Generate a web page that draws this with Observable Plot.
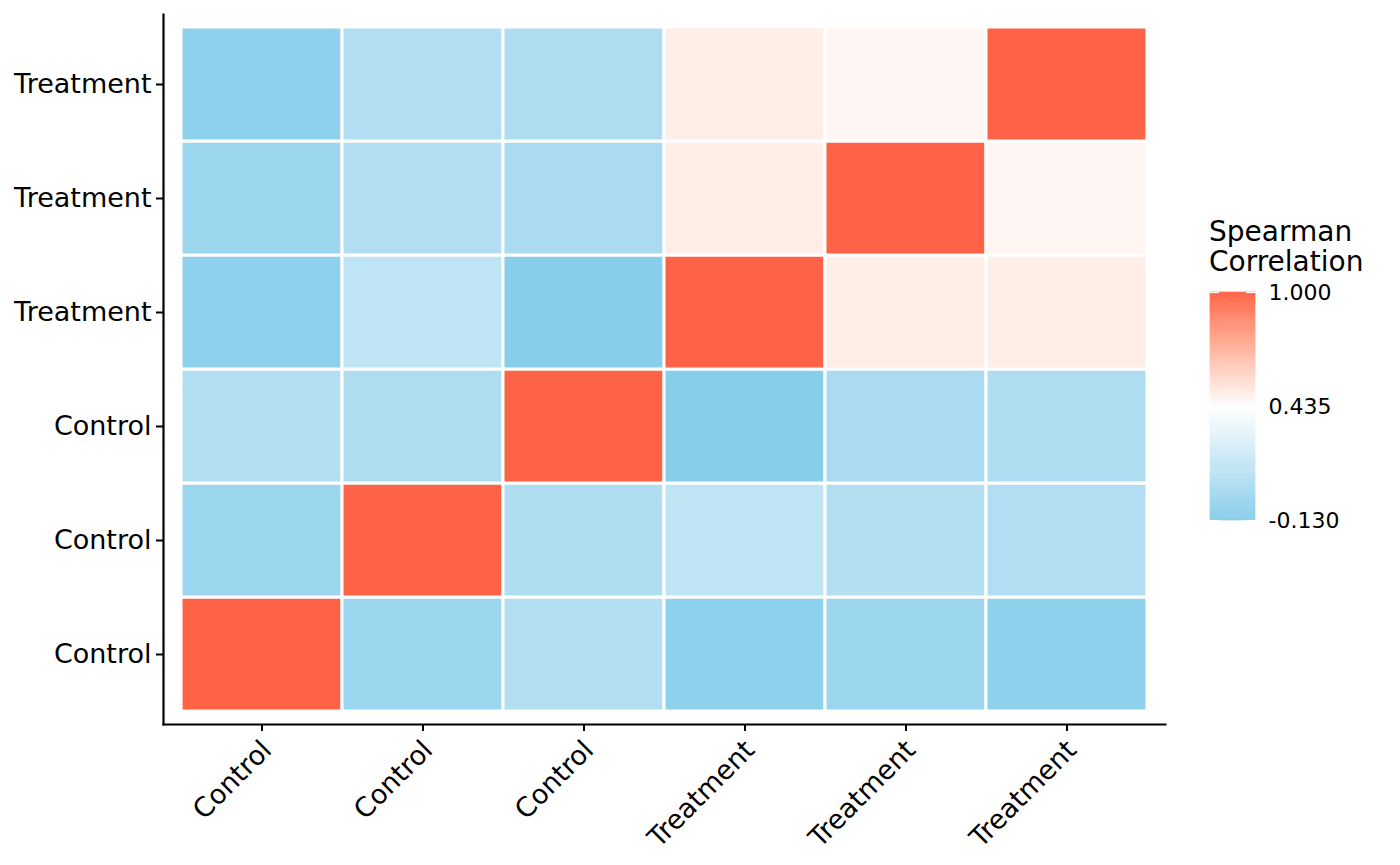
<!DOCTYPE html>
<html>
<head>
<meta charset="utf-8">
<script src="https://cdn.jsdelivr.net/npm/d3@7"></script>
<script src="https://cdn.jsdelivr.net/npm/@observablehq/plot@0.6"></script>
<style>
  html, body { margin: 0; padding: 0; background: #fff; }
  #wrap { position: relative; width: 1400px; height: 865px; font-family: "DejaVu Sans", sans-serif; }
  #main { position: absolute; left: 0; top: 0; }
  #legend { position: absolute; left: 1190px; top: 270px; }
  #ltitle { position: absolute; left: 1209px; top: 217px; font-size: 28px; line-height: 30px; color: #000; }
</style>
</head>
<body>
<div id="wrap">
  <div id="main"></div>
  <div id="ltitle">Spearman<br>Correlation</div>
  <div id="legend"></div>
</div>
<script>
// ---- data ----
const sampleIds = ["C1", "C2", "C3", "T1", "T2", "T3"];
const sampleLabels = ["Control", "Control", "Control", "Treatment", "Treatment", "Treatment"];
const corrC1 = [1.000, -0.040, 0.065, -0.100, -0.045, -0.100];
const corrC2 = [-0.040, 1.000, 0.050, 0.120, 0.070, 0.055];
const corrC3 = [0.065, 0.050, 1.000, -0.130, 0.020, 0.040];
const corrT1 = [-0.100, 0.120, -0.130, 1.000, 0.500, 0.500];
const corrT2 = [-0.045, 0.070, 0.020, 0.500, 1.000, 0.470];
const corrT3 = [-0.100, 0.055, 0.040, 0.500, 0.470, 1.000];
const legendTicks = [-0.130, 0.435, 1.000];

const matrix = [corrC1, corrC2, corrC3, corrT1, corrT2, corrT3];
const cells = [];
matrix.forEach((row, i) => row.forEach((r, j) => cells.push({row: sampleIds[i], col: sampleIds[j], r})));
const labelOf = id => sampleLabels[sampleIds.indexOf(id)];

const colorOpts = {
  type: "linear",
  domain: [legendTicks[0], legendTicks[1], legendTicks[2]],
  range: ["skyblue", "white", "tomato"],
  interpolate: "lab"
};

const main = Plot.plot({
  width: 1180,
  height: 865,
  marginLeft: 163,
  marginRight: 15,
  marginTop: 14,
  marginBottom: 141,
  style: { fontFamily: "DejaVu Sans, sans-serif", fontSize: "27px", color: "#000", background: "transparent" },
  x: { domain: sampleIds, type: "band", paddingInner: 0, paddingOuter: 0.112, round: false, label: null },
  y: { domain: sampleIds, type: "band", reverse: true, paddingInner: 0, paddingOuter: 0.114, round: false, label: null },
  color: colorOpts,
  marks: [
    Plot.cell(cells, { x: "col", y: "row", fill: "r", stroke: "white", strokeWidth: 3, inset: 0 }),
    Plot.axisY({ tickFormat: labelOf, tickSize: 7, tickPadding: 5, strokeWidth: 2, fontSize: 27, label: null }),
    Plot.axisX({ tickFormat: () => "", tickSize: 7, strokeWidth: 2, label: null }),
    Plot.axisX({ tickFormat: labelOf, tickSize: 0, tickPadding: 21, dx: 5, tickRotate: -45, fontSize: 27, label: null }),
    Plot.frame({ anchor: "left", strokeWidth: 2.2 }),
    Plot.frame({ anchor: "bottom", strokeWidth: 2.2 })
  ]
});
document.getElementById("main").appendChild(main);

// ---- legend colorbar ----
const nStops = 120;
const stops = d3.range(nStops).map(i => {
  const lo = legendTicks[0] + (legendTicks[2] - legendTicks[0]) * i / nStops;
  const hi = legendTicks[0] + (legendTicks[2] - legendTicks[0]) * (i + 1) / nStops;
  return { lo, hi, mid: (lo + hi) / 2 };
});
const legend = Plot.plot({
  width: 210,
  height: 300,
  marginLeft: 20,
  marginRight: 145,
  marginTop: 22,
  marginBottom: 50,
  style: { fontFamily: "DejaVu Sans, sans-serif", fontSize: "22px", color: "#000", background: "transparent" },
  x: { domain: [0, 1], axis: null },
  y: { domain: [legendTicks[0], legendTicks[2]], label: null },
  color: colorOpts,
  marks: [
    Plot.rect(stops, { x1: 0, x2: 1, y1: "lo", y2: "hi", fill: "mid", stroke: "mid", strokeWidth: 0.6 }),
    Plot.ruleY(legendTicks, { x1: 0, x2: 0.2, stroke: "white", strokeWidth: 1.2 }),
    Plot.ruleY(legendTicks, { x1: 0.8, x2: 1, stroke: "white", strokeWidth: 1.2 }),
    Plot.axisY({ anchor: "right", ticks: legendTicks, tickFormat: d => d.toFixed(3), tickSize: 0, tickPadding: 13, fontSize: 22, label: null })
  ]
});
document.getElementById("legend").appendChild(legend);
</script>
</body>
</html>
